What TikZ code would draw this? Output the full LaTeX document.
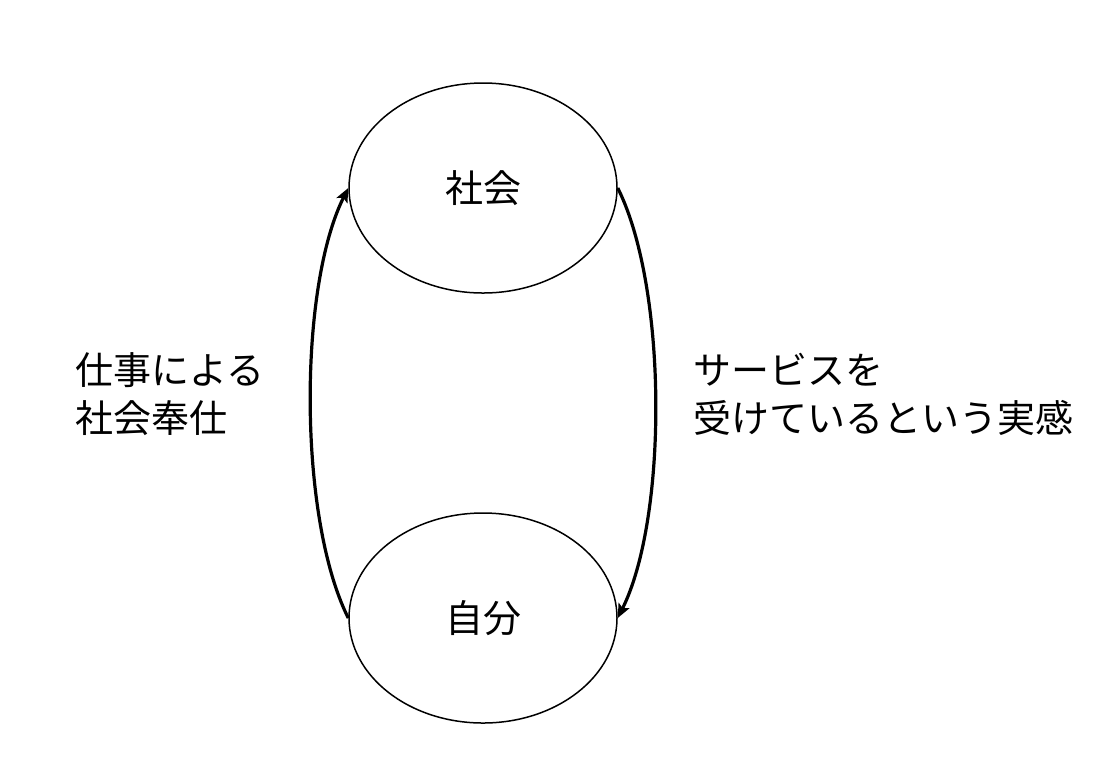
\documentclass[tikz,border=0pt]{standalone}
\usepackage{fontspec}
\newfontfamily\jpfont{Noto Sans CJK JP}
\usepackage{tikz}
\usetikzlibrary{shapes.geometric, arrows.meta, positioning}

\begin{document}
\begin{tikzpicture}[
    x=0.5pt, y=-0.5pt,
    every node/.style={font=\jpfont\fontsize{19pt}{24pt}\selectfont},
    circlebox/.style={draw, ellipse, line width=0.75pt, minimum width=134pt,
                minimum height=105pt, inner sep=0pt},
    arrow/.style={-{Stealth[length=7pt,width=6pt,inset=1.5pt]}, line width=1.6pt},
    label/.style={align=left, anchor=west, inner sep=0pt}
]
\useasboundingbox (0,0) rectangle (1096,757);

\node[circlebox] (shakai) at (483,188) {社会};
\node[circlebox] (jibun) at (483,618) {自分};

\node[label] (hoshi) at (75,394) {仕事による\\社会奉仕};
\node[label] (jikkan) at (693,394) {サービスを\\受けているという実感};

\draw[arrow] (jibun.west) .. controls +(-50,-100) and +(-50,100) .. (shakai.west);
\draw[arrow] (shakai.east) .. controls +(50,100) and +(50,-100) .. (jibun.east);
\end{tikzpicture}
\end{document}
